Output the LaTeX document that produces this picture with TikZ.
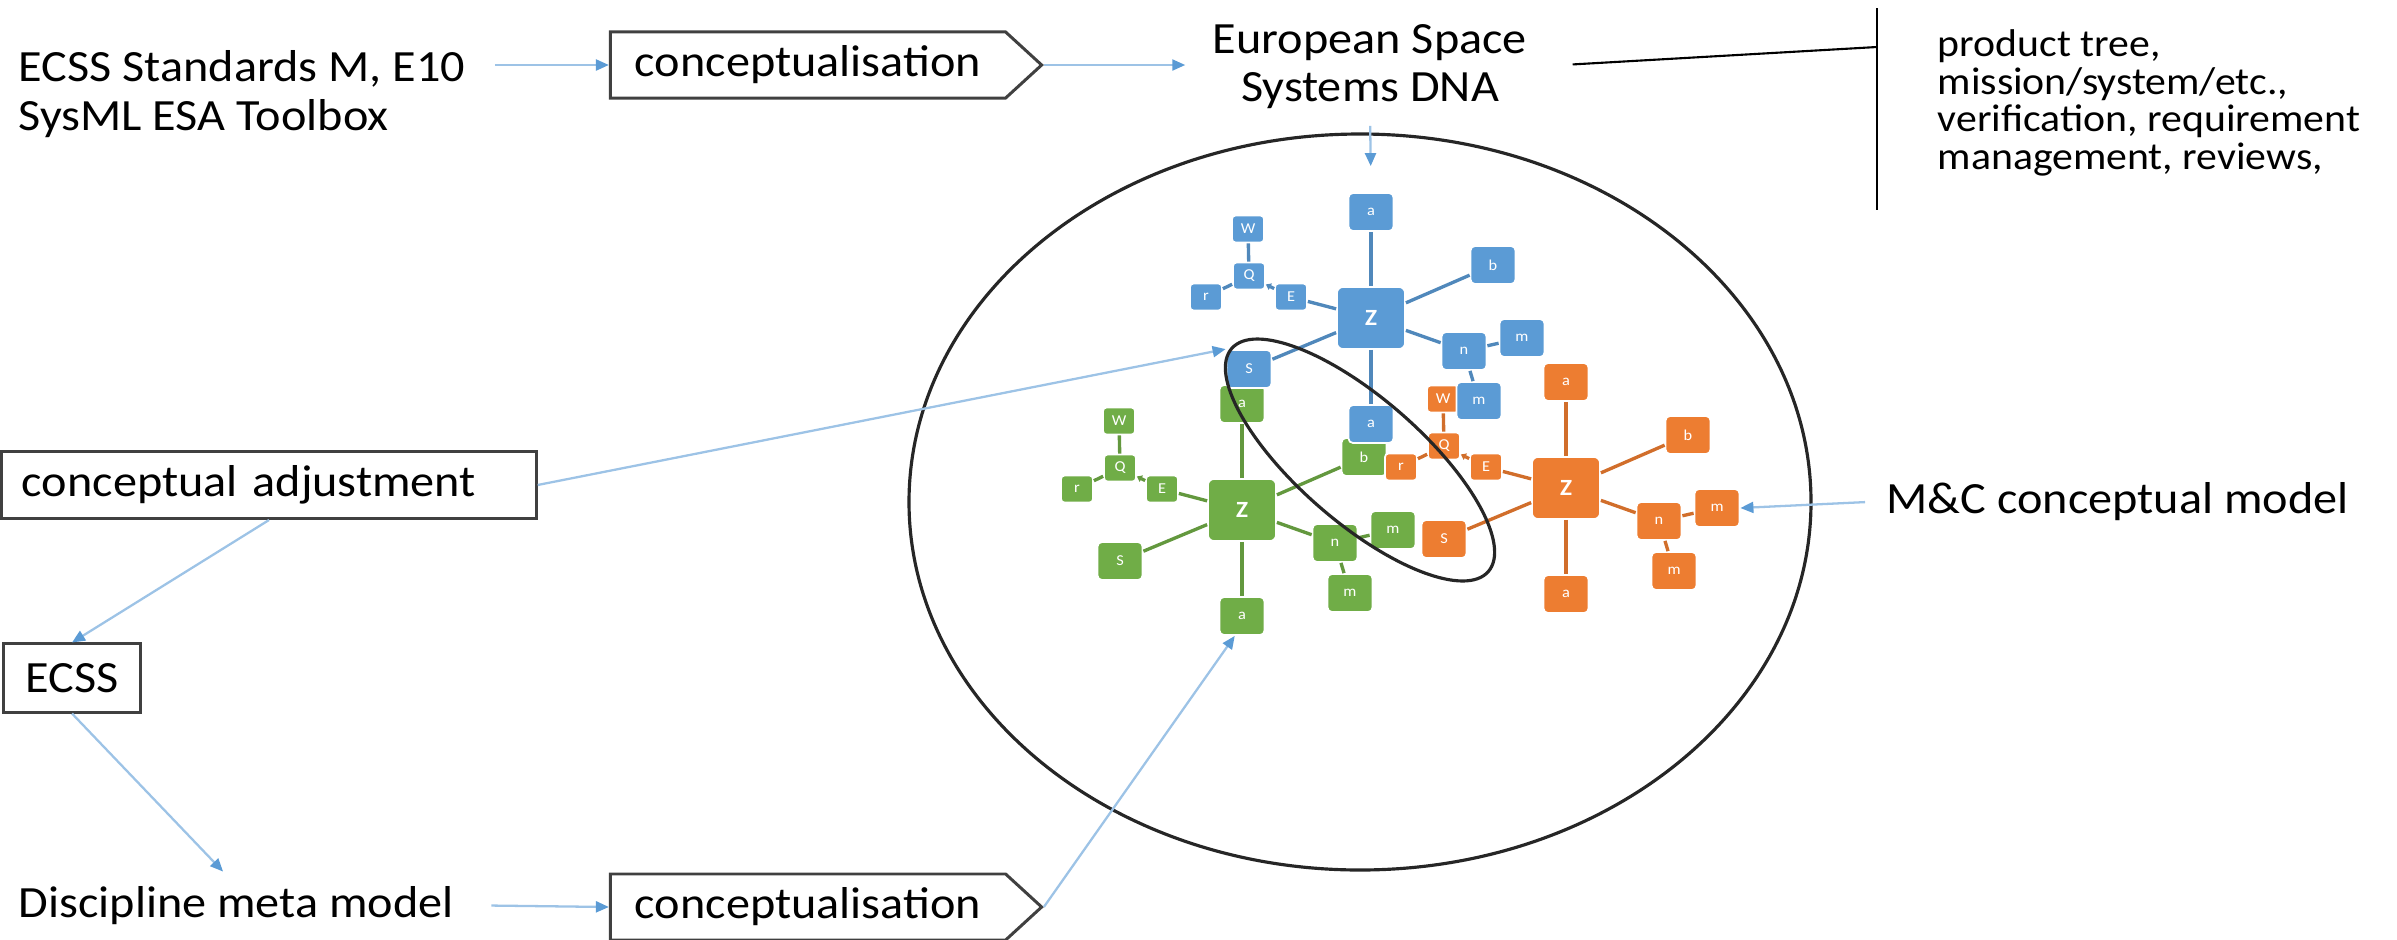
\documentclass[tikz,border=0pt]{standalone}
\usepackage{fontspec}
\setmainfont{Carlito}[FakeStretch=1.08]
\usetikzlibrary{arrows.meta,shapes.symbols}
\definecolor{skyblue}{HTML}{5B9BD5}
\definecolor{leafgreen}{HTML}{70AD47}
\definecolor{amber}{HTML}{ED7D31}
\definecolor{flowline}{HTML}{9DC3E6}
\definecolor{tipblue}{HTML}{5B9BD5}
\definecolor{boxline}{HTML}{404040}
\tikzset{
  txt/.style={font=\fontsize{12.7}{13.7}\selectfont,inner sep=0pt},
  boxed/.style={txt,draw=boxline,line width=0.85pt},
  arrowbox/.style={boxed,shape=signal,signal to=east,signal pointer angle=85,minimum width=4.31cm,minimum height=0.66cm},
  flow/.style={draw=flowline,line width=0.65pt,-{Triangle[length=1.3mm,width=1.1mm,color=tipblue]}},
  rim/.style={draw=black!85,line width=0.9pt},
  tile/.style={rectangle,draw=white,line width=0.5pt,text=white,inner sep=0pt},
  hub/.style={tile,minimum width=0.68cm,minimum height=0.62cm,rounded corners=0.6mm,font=\fontsize{6.6}{6.6}\selectfont\bfseries},
  leaf/.style={tile,minimum width=0.45cm,minimum height=0.38cm,rounded corners=0.45mm,font=\fontsize{4.3}{4.3}\selectfont},
  twig/.style={tile,minimum width=0.32cm,minimum height=0.27cm,rounded corners=0.35mm,font=\fontsize{4.3}{4.3}\selectfont},
}
\newcommand{\starcluster}[3]{%
\begin{scope}[shift={(#3)}]
\node[hub,fill=#2](#1Z) at (0,0) {Z};
\foreach \n/\lbl/\x/\y in {a/a/0/-106,b/b/122/-53,n/n/93/33,m/m/151/20,k/m/108/83,S/S/-122/51,d/a/0/106}
  {\node[leaf,fill=#2](#1\n) at (\x,\y) {\lbl};}
\foreach \n/\x/\y in {E/-80/-21,Q/-122/-42,W/-123/-89,r/-165/-21}
  {\node[twig,fill=#2](#1\n) at (\x,\y) {\n};}
\foreach \u/\v in {Z/a,Z/b,Z/n,Z/S,Z/d,Z/E,n/m,n/k,Q/W,Q/r}
  {\draw[#2!88!black,line width=0.95pt](#1\u)--(#1\v);}
\draw[#2!88!black,line width=0.95pt,-{Triangle[length=0.5mm,width=0.7mm]}](#1E)--(#1Q);
\end{scope}}
\begin{document}
\begin{tikzpicture}[x=0.01cm,y=-0.01cm]
\useasboundingbox (0,0) rectangle (2397,939);
\draw[rim](1360,502) ellipse [x radius=451,y radius=368];
\starcluster{g}{leafgreen}{1242,510}
\starcluster{o}{amber}{1566,488}
\starcluster{b}{skyblue}{1371,318}
\draw[rim,rotate around={-41:(1360,460)}](1360,460) ellipse [x radius=170,y radius=62];
\node[txt,align=left,anchor=west](src) at (18,94) {ECSS Standards M, E10\\SysML ESA Toolbox};
\node[arrowbox](concA) at (808,65) {conceptualisation};
\node[txt,align=center](dna) at (1370,67) {European Space\\Systems DNA};
\node[txt,font=\fontsize{11}{10.7}\selectfont,align=left,anchor=west](facets) at (1937,103) {product tree,\\mission/system/etc.,\\verification, requirement\\management, reviews,};
\coordinate (brtop) at (1877,8);
\coordinate (brbot) at (1877,210);
\coordinate (brmid) at (1877,47);
\node[boxed,minimum height=0.67cm,text width=4.94cm,inner xsep=0.2cm,align=left](adj) at (269,485) {conceptual adjustment};
\node[boxed,minimum width=1.36cm,minimum height=0.68cm](ecss) at (72,678) {ECSS};
\node[txt,anchor=base west](disc) at (18,917) {Discipline meta model};
\node[arrowbox](concB) at (808,907) {conceptualisation};
\node[txt,anchor=base west](mc) at (1886,513) {M\&C conceptual model};
\draw[flow,shorten <=0.29cm](src.east |- concA.west)--(concA.west);
\draw[flow,shorten >=0.27cm](concA.east)--(dna.west |- concA.east);
\draw[flow,shorten <=0.16cm,shorten >=0.26cm](dna.south)--(ba.north);
\draw[line width=0.6pt,shorten <=0.45cm](dna.east)--(brmid);
\draw[line width=0.6pt](brtop)--(brbot);
\draw[flow](adj.east)--(bS.north west);
\draw[flow](adj.south)--(ecss.north);
\draw[flow,shorten >=0.19cm](ecss.south)--(disc.north);
\draw[flow,shorten <=0.37cm](disc.east)--(concB.west);
\draw[flow](concB.east)--(gd.250);
\draw[flow,shorten <=0.21cm](mc.west)--(om.east);
\end{tikzpicture}
\end{document}
